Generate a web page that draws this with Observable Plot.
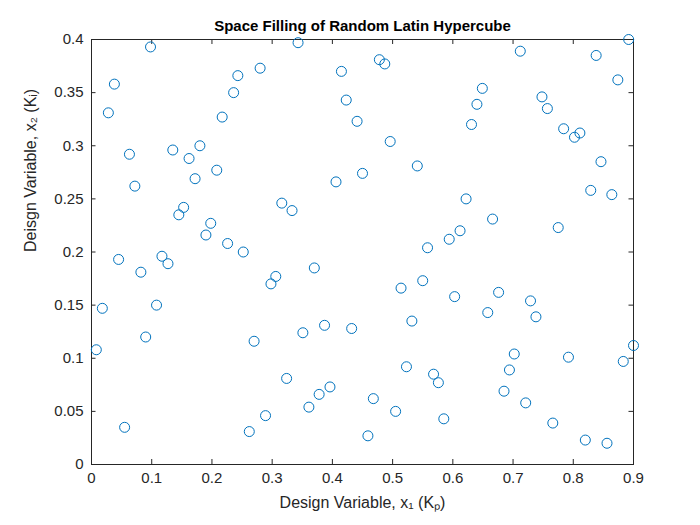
<!DOCTYPE html>
<html><head><meta charset="utf-8">
<script src="https://cdn.jsdelivr.net/npm/d3@7"></script>
<script src="https://cdn.jsdelivr.net/npm/@observablehq/plot@0.6"></script>
<style>body{margin:0;background:#fff;font-family:"Liberation Sans",Arial,sans-serif}</style>
</head><body><div id="chart"></div>
<script>
const xs = [0.008,0.018,0.028,0.038,0.045,0.055,0.063,0.072,0.082,0.090,0.098,0.108,0.117,0.127,0.135,0.145,0.153,0.162,0.172,0.180,0.190,0.198,0.208,0.217,0.226,0.236,0.243,0.252,0.262,0.270,0.280,0.289,0.298,0.306,0.316,0.324,0.333,0.343,0.351,0.361,0.370,0.378,0.387,0.396,0.406,0.415,0.423,0.432,0.441,0.450,0.459,0.468,0.478,0.487,0.496,0.505,0.514,0.523,0.532,0.541,0.550,0.558,0.568,0.576,0.585,0.594,0.603,0.612,0.622,0.631,0.640,0.649,0.658,0.666,0.676,0.685,0.694,0.702,0.712,0.721,0.729,0.738,0.748,0.757,0.766,0.775,0.784,0.792,0.802,0.811,0.820,0.829,0.838,0.846,0.856,0.864,0.874,0.883,0.892,0.900];
const ys = [0.108,0.147,0.331,0.358,0.193,0.035,0.292,0.262,0.181,0.120,0.393,0.150,0.196,0.189,0.296,0.235,0.242,0.288,0.269,0.300,0.216,0.227,0.277,0.327,0.208,0.350,0.366,0.200,0.031,0.116,0.373,0.046,0.170,0.177,0.246,0.081,0.239,0.397,0.124,0.054,0.185,0.066,0.131,0.073,0.266,0.370,0.343,0.128,0.323,0.274,0.027,0.062,0.381,0.377,0.304,0.050,0.166,0.092,0.135,0.281,0.173,0.204,0.085,0.077,0.043,0.212,0.158,0.220,0.250,0.320,0.339,0.354,0.143,0.231,0.162,0.069,0.089,0.104,0.389,0.058,0.154,0.139,0.346,0.335,0.039,0.223,0.316,0.101,0.308,0.312,0.023,0.258,0.385,0.285,0.020,0.254,0.362,0.097,0.400,0.112];
const xTicks = d3.range(0, 0.91, 0.1).map(v => +v.toFixed(1));
const yTicks = d3.range(0, 0.401, 0.05).map(v => +v.toFixed(2));
const pts = xs.map((x, i) => ({x, y: ys[i]}));
const ink = "#262626";
const tx = 5 / 602 * 0.9, ty = 5 / 425 * 0.4;

const plot = Plot.plot({
  width: 700, height: 525,
  marginLeft: 91, marginRight: 67, marginTop: 39, marginBottom: 61,
  style: {fontFamily: '"Liberation Sans", Arial, sans-serif', fontSize: "15px", color: ink, background: "#fff"},
  x: {domain: [0, 0.9]},
  y: {domain: [0, 0.4]},
  marks: [
    Plot.axisX({ticks: xTicks, tickSize: 0, tickPadding: 8, tickFormat: d => d === 0 ? "0" : String(d), label: null, fontSize: 15}),
    Plot.axisY({ticks: yTicks, tickSize: 0, tickPadding: 8, tickFormat: d => d === 0 ? "0" : String(d), label: null, fontSize: 15}),
    Plot.text(["Design Variable, x₁ (Kₚ)"], {frameAnchor: "bottom", dy: 43, fontSize: 16, fill: ink}),
    Plot.text(["Deisgn Variable, x₂ (Kᵢ)"], {frameAnchor: "left", dx: -61, rotate: -90, fontSize: 16, fill: ink}),
    Plot.ruleX(xTicks, {y1: 0, y2: ty, stroke: ink}),
    Plot.ruleX(xTicks, {y1: 0.4 - ty, y2: 0.4, stroke: ink}),
    Plot.ruleY(yTicks, {x1: 0, x2: tx, stroke: ink}),
    Plot.ruleY(yTicks, {x1: 0.9 - tx, x2: 0.9, stroke: ink}),
    Plot.frame({stroke: ink}),
    Plot.dot(pts, {x: "x", y: "y", r: 5, stroke: "#0072BD", strokeWidth: 1, fill: "none"}),
    Plot.text(["Space Filling of Random Latin Hypercube"], {frameAnchor: "top", dy: -19, fontWeight: "bold", fontSize: 15, fill: "#000"})
  ]
});
document.getElementById("chart").append(plot);
</script></body></html>
